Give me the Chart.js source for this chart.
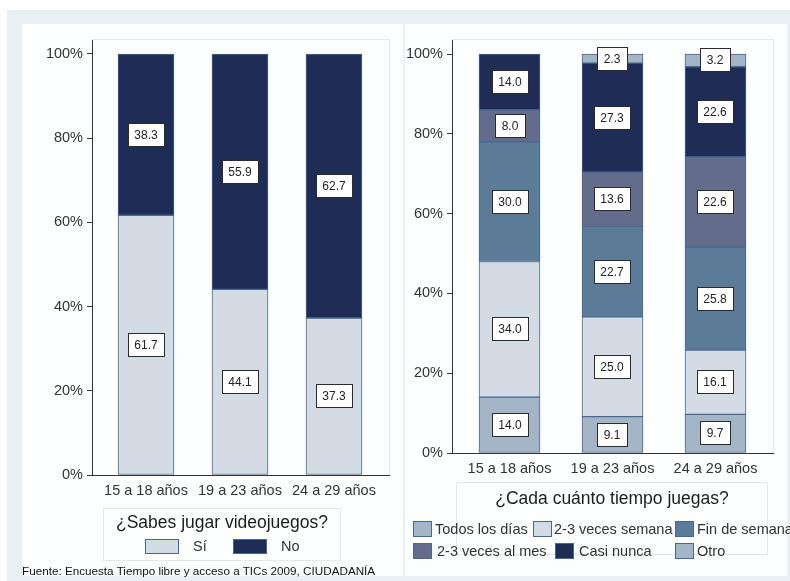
<!DOCTYPE html>
<html lang="es">
<head>
<meta charset="utf-8">
<title>Videojuegos por edad</title>
<script src="https://cdn.jsdelivr.net/npm/chart.js@4.4.1/dist/chart.umd.min.js"></script>
<style>
  html, body { margin: 0; padding: 0; background: #ffffff; }
  body { width: 790px; height: 581px; position: relative; overflow: hidden;
         font-family: "Liberation Sans", Arial, sans-serif; }
  .frame { position: absolute; left: 7px; top: 10px; width: 783px; height: 571px; background: #e8f0f3; }
  .panel { position: absolute; background: #fdfefe; }
  canvas { position: absolute; }
  .legend { position: absolute; border: 1px solid #e2e9ed; box-sizing: border-box; }
  .legend-title { position: absolute; left: 0; right: 0; text-align: center; color: #1c1c1c;
                  font-size: 17.5px; white-space: nowrap; }
  .item { position: absolute; white-space: nowrap; font-size: 14.5px; color: #333; line-height: 16px; }
  .swatch { position: absolute; box-sizing: border-box; border: 1px solid #47698f; }
  .footer { position: absolute; left: 22px; top: 564px; font-size: 11.7px; color: #111; white-space: nowrap; }
</style>
</head>
<body>
<div class="frame"></div>
<div class="panel" style="left:22px;top:24px;width:381px;height:552px;"></div>
<div class="panel" style="left:405px;top:24px;width:382px;height:552px;"></div>

<canvas id="left" width="381" height="551" style="left:22px;top:24px;"></canvas>
<canvas id="right" width="382" height="551" style="left:405px;top:24px;"></canvas>

<div id="legendLeft" class="legend" style="left:103px;top:508px;width:238px;height:53px;">
  <div class="legend-title" style="top:3px;">¿Sabes jugar videojuegos?</div>
</div>
<div id="legendRight" class="legend" style="left:456px;top:482px;width:312px;height:73px;">
  <div class="legend-title" style="top:5px;">¿Cada cuánto tiempo juegas?</div>
</div>
<div class="footer">Fuente: Encuesta Tiempo libre y acceso a TICs 2009, CIUDADANÍA</div>

<script>
// ---- data ----
const categories = ['15 a 18 años', '19 a 23 años', '24 a 29 años'];
const yTickValues = [0, 20, 40, 60, 80, 100];

const playLabels = ['Sí', 'No'];
const playSi = [61.7, 44.1, 37.3];
const playNo = [38.3, 55.9, 62.7];

const freqLabels = ['Todos los días', '2-3 veces semana', 'Fin de semana',
                    '2-3 veces al mes', 'Casi nunca', 'Otro'];
const freqTodos = [14.0, 9.1, 9.7];
const freqSemana = [34.0, 25.0, 16.1];
const freqFinde = [30.0, 22.7, 25.8];
const freqMes = [8.0, 13.6, 22.6];
const freqCasiNunca = [14.0, 27.3, 22.6];
const freqOtro = [0, 2.3, 3.2];

// ---- styling ----
const FONT = '"Liberation Sans", Arial, sans-serif';
const AXIS = '#333333';
const EDGE = '#47698f';
const playColors = ['#d3dbe4', '#1f2c55'];
const freqColors = ['#a4b5c7', '#d3dbe4', '#5c7b99', '#636c8b', '#1f2c55', '#a4b5c7'];

const toPoints = arr => arr.map((v, i) => ({ x: i + 1, y: v }));

// Boxed value labels centred in each stacked segment
const boxedLabels = {
  id: 'boxedLabels',
  afterDatasetsDraw(chart) {
    const ctx = chart.ctx;
    ctx.save();
    ctx.font = '12px ' + FONT;
    ctx.textAlign = 'center';
    ctx.textBaseline = 'middle';
    chart.data.datasets.forEach((ds, di) => {
      const meta = chart.getDatasetMeta(di);
      meta.data.forEach((el, i) => {
        const v = ds.data[i].y;
        if (!v) return;
        const txt = v.toFixed(1);
        const w = Math.round(ctx.measureText(txt).width) + 13;
        const h = 23;
        const cx = Math.round(el.x);
        const cy = Math.round((el.y + el.base) / 2);
        const x0 = cx - Math.round(w / 2) + 0.5, y0 = cy - Math.round(h / 2) + 0.5;
        ctx.fillStyle = '#ffffff';
        ctx.fillRect(x0, y0, w, h);
        ctx.strokeStyle = '#2b2b2b';
        ctx.lineWidth = 1;
        ctx.strokeRect(x0, y0, w, h);
        ctx.fillStyle = '#222222';
        ctx.fillText(txt, cx, cy + 1);
      });
    });
    ctx.restore();
  }
};

// Faint frame on the top and right side of the plot region
const plotFrame = {
  id: 'plotFrame',
  beforeDatasetsDraw(chart) {
    const { left, right, top, bottom } = chart.chartArea;
    const ctx = chart.ctx;
    ctx.save();
    ctx.strokeStyle = '#e3eaee';
    ctx.lineWidth = 1;
    ctx.beginPath();
    ctx.moveTo(left, top + 0.5);
    ctx.lineTo(Math.round(right) + 0.5, top + 0.5);
    ctx.lineTo(Math.round(right) + 0.5, bottom);
    ctx.stroke();
    ctx.restore();
  }
};

function makeChart(id, labels, series, colors, cfg) {
  const datasets = series.map((arr, k) => ({
    label: labels[k],
    data: toPoints(arr),
    backgroundColor: colors[k],
    borderColor: EDGE,
    borderWidth: 1,
    borderSkipped: false,
    barThickness: cfg.barWidth
  }));
  return new Chart(document.getElementById(id), {
    type: 'bar',
    data: { datasets },
    plugins: [plotFrame, boxedLabels],
    options: {
      responsive: false,
      animation: false,
      devicePixelRatio: 1,
      layout: { padding: { left: 0, right: cfg.padRight, top: 15, bottom: 0 } },
      plugins: { legend: { display: false }, tooltip: { enabled: false } },
      scales: {
        x: {
          type: 'linear',
          stacked: true,
          offset: false,
          bounds: 'data',
          min: cfg.xMin,
          max: cfg.xMax,
          afterBuildTicks: s => { s.ticks = categories.map((c, i) => ({ value: i + 1 })); },
          afterFit: s => { s.height = cfg.xHeight; },
          grid: { display: true, offset: false, drawOnChartArea: false, drawTicks: false },
          border: { display: true, color: AXIS, width: 1 },
          ticks: {
            padding: 7,
            color: AXIS,
            font: { family: FONT, size: 14.5 },
            maxRotation: 0,
            autoSkip: false,
            callback: v => categories[Math.round(v) - 1]
          }
        },
        y: {
          stacked: true,
          min: 0,
          max: cfg.yMax,
          afterBuildTicks: s => { s.ticks = yTickValues.map(v => ({ value: v })); },
          afterFit: s => { s.width = cfg.yWidth; },
          grid: { drawOnChartArea: false, drawTicks: true, tickLength: 5, color: AXIS },
          border: { display: true, color: AXIS, width: 1 },
          ticks: {
            padding: 4,
            color: AXIS,
            font: { family: FONT, size: 14.5 },
            callback: v => v + '%'
          }
        }
      }
    }
  });
}

const leftChart = makeChart('left', playLabels, [playSi, playNo], playColors, {
  barWidth: 56, padRight: 14, xMin: 0.4255, xMax: 3.5855, xHeight: 100, yWidth: 70, yMax: 103.56
});

const rightChart = makeChart('right', freqLabels,
  [freqTodos, freqSemana, freqFinde, freqMes, freqCasiNunca, freqOtro], freqColors, {
  barWidth: 61, padRight: 14, xMin: 0.4417, xMax: 3.5584, xHeight: 122, yWidth: 47, yMax: 103.76
});

// ---- HTML legends built from the chart datasets ----
function buildLegend(boxId, chart, slots, sw) {
  const box = document.getElementById(boxId);
  const bx = box.getBoundingClientRect();
  chart.data.datasets.forEach((ds, k) => {
    const s = slots[k];
    const swatch = document.createElement('div');
    swatch.className = 'swatch';
    swatch.style.left = (s.sx - bx.left) + 'px';
    swatch.style.top = (s.y - sw.h / 2 - bx.top) + 'px';
    swatch.style.width = sw.w + 'px';
    swatch.style.height = sw.h + 'px';
    swatch.style.background = ds.backgroundColor;
    box.appendChild(swatch);
    const t = document.createElement('div');
    t.className = 'item';
    t.textContent = ds.label;
    t.style.left = (s.tx - bx.left) + 'px';
    t.style.top = (s.y - 8 - bx.top) + 'px';
    box.appendChild(t);
  });
}

buildLegend('legendLeft', leftChart,
  [{ sx: 144, tx: 192, y: 545 }, { sx: 232, tx: 280, y: 545 }],
  { w: 34, h: 15 });

buildLegend('legendRight', rightChart,
  [{ sx: 412, tx: 434, y: 528 }, { sx: 532, tx: 553, y: 528 }, { sx: 674, tx: 696, y: 528 },
   { sx: 412, tx: 436, y: 550 }, { sx: 554, tx: 578, y: 550 }, { sx: 674, tx: 696, y: 550 }],
  { w: 19, h: 16 });
</script>
</body>
</html>
